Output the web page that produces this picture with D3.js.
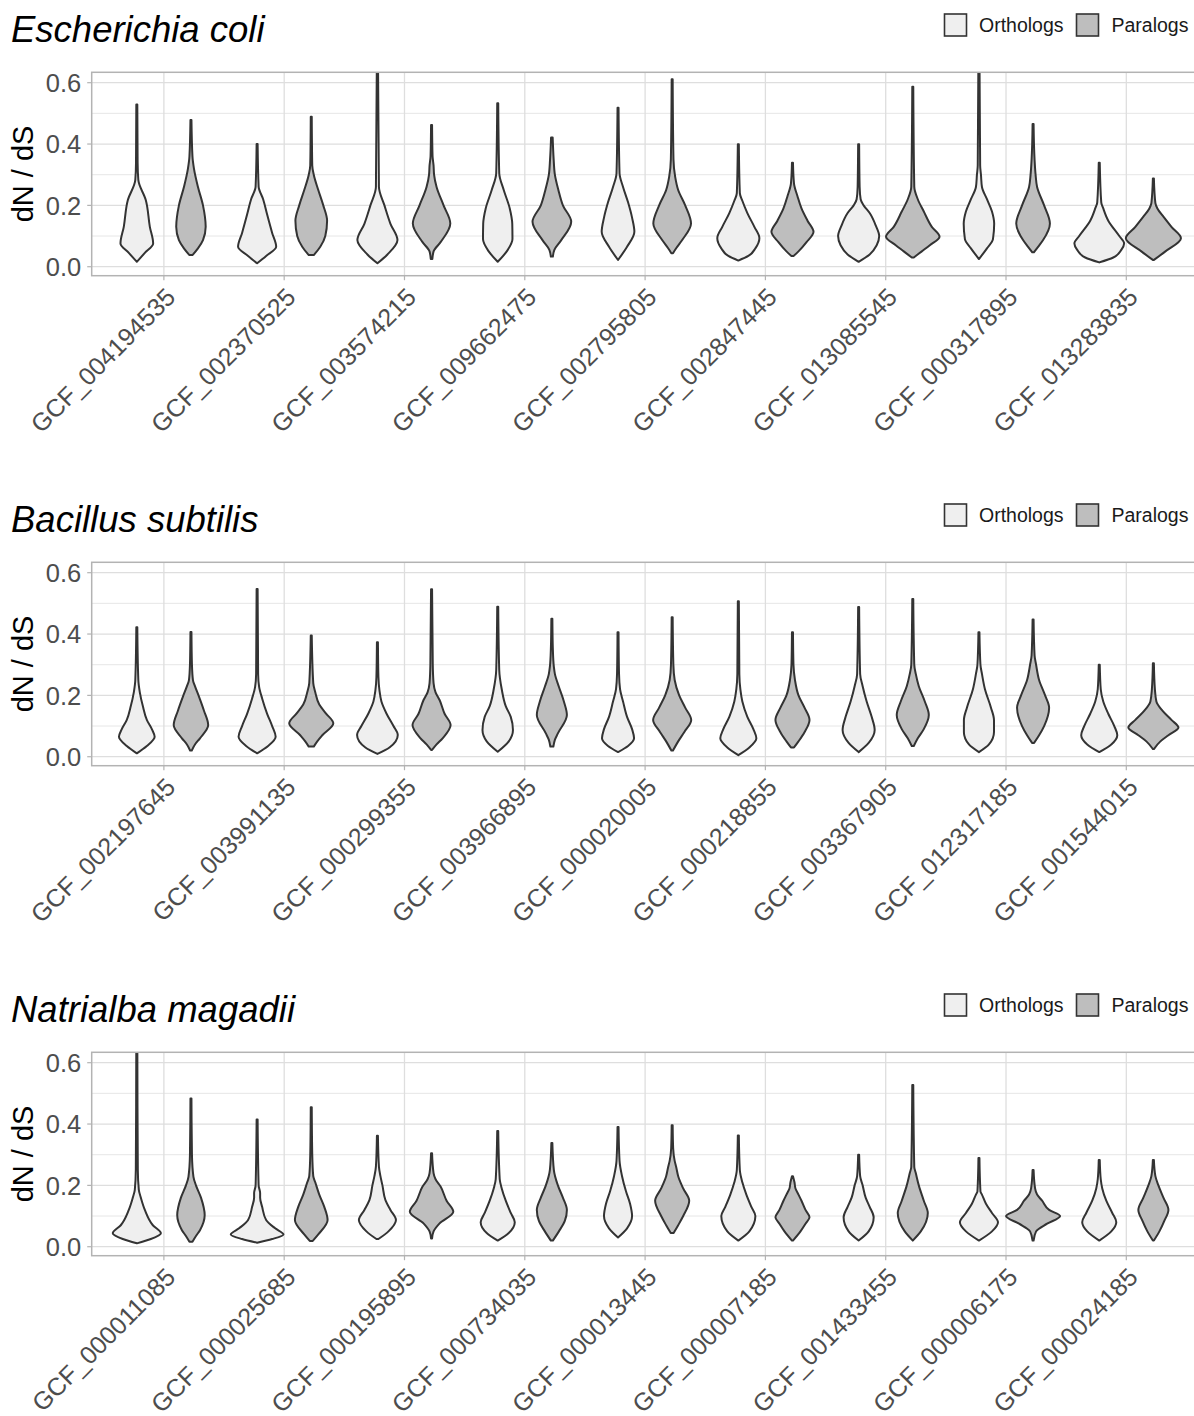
<!DOCTYPE html>
<html>
<head>
<meta charset="utf-8">
<script src="https://cdn.jsdelivr.net/npm/d3@7"></script>
<style>
  body { margin: 0; background: #fff; }
  svg { display: block; font-family: "Liberation Sans", Arial, sans-serif; }
</style>
</head>
<body>
<div id="chart"></div>
<script>
// dN/dS violins, three species, ortholog vs paralog per genome

const speciesNames = ["Escherichia coli", "Bacillus subtilis", "Natrialba magadii"];
const groups = ["Orthologs", "Paralogs"];
const yTicks = [0, 0.2, 0.4, 0.6];
const yMinor = [0.1, 0.3, 0.5];

const accEcoli = ["GCF_004194535", "GCF_002370525", "GCF_003574215", "GCF_009662475", "GCF_002795805",
  "GCF_002847445", "GCF_013085545", "GCF_000317895", "GCF_013283835"];
const accBsub = ["GCF_002197645", "GCF_003991135", "GCF_000299355", "GCF_003966895", "GCF_000020005",
  "GCF_000218855", "GCF_003367905", "GCF_012317185", "GCF_001544015"];
const accNmag = ["GCF_000011085", "GCF_000025685", "GCF_000195895", "GCF_000734035", "GCF_000013445",
  "GCF_000007185", "GCF_001433455", "GCF_000006175", "GCF_000024185"];

// violin outlines: [dN/dS, density] from bottom to top
const orthoEcoli = [
  [[0.016,0],[0.045,8],[0.076,16.3],[0.13,13],[0.217,9],[0.283,1.5],[0.34,0.8],[0.529,0.5]],
  [[0.011,0],[0.035,9],[0.065,19],[0.11,15],[0.17,10],[0.22,6],[0.261,1.5],[0.4,0.5]],
  [[0.011,0],[0.04,10],[0.087,20],[0.14,13],[0.2,7],[0.26,1.5],[0.7,0.5]],
  [[0.016,0],[0.05,9],[0.09,14.7],[0.14,14.5],[0.19,12],[0.25,6],[0.305,1.5],[0.533,0.5]],
  [[0.022,0],[0.065,9],[0.114,16.3],[0.16,14],[0.21,10],[0.26,5],[0.305,1.5],[0.518,0.5]],
  [[0.020,0],[0.035,10],[0.06,17],[0.093,21],[0.13,16],[0.175,9],[0.215,4],[0.24,1.5],[0.399,0.5]],
  [[0.016,0],[0.04,11],[0.07,18],[0.1,20.5],[0.135,17],[0.175,11],[0.2,5],[0.22,2],[0.26,1],[0.399,0.5]],
  [[0.025,0],[0.06,8],[0.09,14],[0.14,15.2],[0.18,13],[0.22,8],[0.26,3],[0.3,2],[0.33,1.2],[0.7,0.5]],
  [[0.014,0],[0.03,14],[0.055,22],[0.076,24.8],[0.1,20],[0.15,9],[0.19,4],[0.21,2],[0.339,0.5]]
];
const paraEcoli = [
  [[0.038,1.5],[0.06,7],[0.087,12],[0.13,14.7],[0.2,12],[0.26,7],[0.32,3],[0.36,1.5],[0.478,0.5]],
  [[0.038,2.5],[0.065,9],[0.1,14],[0.15,15.8],[0.2,12],[0.25,7],[0.3,2.5],[0.33,1],[0.489,0.5]],
  [[0.025,0.8],[0.05,2],[0.08,9],[0.141,18.7],[0.2,12],[0.26,5],[0.3,2.5],[0.33,2],[0.36,1],[0.462,0.5]],
  [[0.033,1],[0.055,2.5],[0.085,9],[0.147,19.3],[0.2,11],[0.25,6.5],[0.3,3],[0.35,1.8],[0.421,0.8]],
  [[0.044,0.8],[0.06,4],[0.087,10],[0.141,18.8],[0.2,13],[0.25,6],[0.293,3],[0.35,1.3],[0.611,0.5]],
  [[0.035,1],[0.05,6],[0.08,14],[0.114,21],[0.15,15],[0.19,9],[0.23,5],[0.272,1.5],[0.339,0.5]],
  [[0.030,1],[0.05,9],[0.07,17],[0.098,26.7],[0.13,19],[0.18,11],[0.22,5],[0.261,1.5],[0.587,0.5]],
  [[0.047,0.8],[0.065,5],[0.087,10],[0.141,16.8],[0.2,11],[0.26,4],[0.3,2.5],[0.348,1.5],[0.465,0.5]],
  [[0.022,0.5],[0.05,12],[0.093,27.5],[0.13,18],[0.163,10],[0.19,4],[0.207,2],[0.288,0.5]]
];

const orthoBsub = [
  [[0.011,0],[0.035,10],[0.065,17.8],[0.09,15],[0.12,10],[0.165,6],[0.21,3],[0.25,1.5],[0.422,0.5]],
  [[0.011,0],[0.035,11],[0.065,18.5],[0.1,15],[0.14,10],[0.19,5],[0.228,2],[0.27,1],[0.547,0.5]],
  [[0.009,0],[0.03,12],[0.071,20.3],[0.1,16],[0.141,9],[0.18,4],[0.217,2],[0.26,1],[0.373,0.5]],
  [[0.016,0],[0.05,11],[0.087,15.2],[0.13,13],[0.165,8],[0.22,4],[0.283,1.5],[0.489,0.5]],
  [[0.015,0],[0.035,10],[0.06,16],[0.09,14],[0.13,9],[0.18,5],[0.22,2],[0.27,1],[0.406,0.5]],
  [[0.005,0],[0.03,11],[0.06,18],[0.09,15],[0.13,9],[0.18,4],[0.22,2],[0.27,1],[0.507,0.5]],
  [[0.015,0],[0.045,10],[0.087,16],[0.13,13],[0.18,8],[0.23,4],[0.27,1.5],[0.488,0.5]],
  [[0.015,0],[0.04,10],[0.08,15],[0.12,15],[0.16,12],[0.22,6],[0.27,3],[0.3,1.5],[0.406,0.5]],
  [[0.015,0],[0.04,12],[0.07,18],[0.1,15],[0.14,9],[0.18,4],[0.22,1.5],[0.3,0.5]]
];
const paraBsub = [
  [[0.020,0.8],[0.04,4],[0.06,9],[0.103,17.2],[0.15,13],[0.196,8],[0.23,4],[0.25,2],[0.3,1],[0.407,0.5]],
  [[0.033,2.5],[0.05,6],[0.07,11],[0.109,22],[0.14,15],[0.17,8],[0.21,4],[0.24,2],[0.395,0.5]],
  [[0.022,0.5],[0.04,5],[0.06,11],[0.103,19],[0.14,13],[0.185,8],[0.21,4],[0.24,2],[0.3,1.2],[0.546,0.5]],
  [[0.033,1.5],[0.055,3],[0.076,6],[0.136,15],[0.18,12],[0.228,7],[0.27,3],[0.293,2],[0.35,1],[0.45,0.5]],
  [[0.02,0.8],[0.05,6],[0.08,12],[0.12,19],[0.16,13],[0.2,7],[0.25,2.5],[0.3,1.2],[0.455,0.5]],
  [[0.03,1.5],[0.05,6],[0.08,12],[0.12,17],[0.16,12],[0.2,6],[0.25,2.5],[0.3,1],[0.406,0.5]],
  [[0.035,1],[0.06,5],[0.09,11],[0.136,16],[0.18,12],[0.23,6],[0.27,3],[0.3,1.5],[0.514,0.5]],
  [[0.045,1],[0.07,6],[0.1,11],[0.16,16],[0.2,12],[0.25,6],[0.3,3],[0.33,1.5],[0.447,0.5]],
  [[0.025,0.5],[0.05,7],[0.07,15],[0.095,25],[0.12,18],[0.15,9],[0.18,3],[0.22,1.5],[0.305,0.5]]
];

const orthoNmag = [
  [[0.011,0],[0.025,14],[0.044,24],[0.07,16],[0.12,8],[0.16,4],[0.185,2],[0.25,1],[0.7,0.5]],
  [[0.013,0],[0.025,15],[0.04,26.3],[0.06,18],[0.087,9],[0.13,5],[0.16,3],[0.175,3],[0.2,1.5],[0.415,0.5]],
  [[0.025,1],[0.05,11],[0.087,18.5],[0.12,13],[0.152,8],[0.2,5],[0.23,3],[0.261,1.5],[0.362,0.5]],
  [[0.02,0],[0.045,11],[0.08,17],[0.11,13],[0.15,8],[0.19,4],[0.22,2],[0.377,0.5]],
  [[0.03,0],[0.06,9],[0.1,14],[0.14,12],[0.18,8],[0.23,4],[0.28,1.5],[0.39,0.5]],
  [[0.02,0],[0.05,11],[0.1,17],[0.13,13],[0.17,8],[0.21,4],[0.25,1.5],[0.363,0.5]],
  [[0.02,0],[0.05,10],[0.096,15],[0.13,11],[0.16,7],[0.2,4],[0.23,1.5],[0.3,0.5]],
  [[0.02,0],[0.05,13],[0.08,19],[0.11,13],[0.14,7],[0.17,3],[0.18,1.5],[0.289,0.5]],
  [[0.02,0],[0.05,12],[0.08,17],[0.11,13],[0.15,7],[0.19,3],[0.22,1.5],[0.283,0.5]]
];
const paraNmag = [
  [[0.016,1.5],[0.035,5],[0.054,9],[0.103,13.7],[0.16,10],[0.2,5],[0.228,2.5],[0.3,1],[0.483,0.5]],
  [[0.019,1.5],[0.04,7],[0.087,16.3],[0.13,13],[0.17,8],[0.21,4],[0.23,2],[0.3,1],[0.455,0.5]],
  [[0.027,0.5],[0.05,2],[0.076,8],[0.114,21.7],[0.15,15],[0.196,9],[0.22,4],[0.24,2],[0.305,0.5]],
  [[0.02,1],[0.05,7],[0.085,13],[0.12,15],[0.16,11],[0.2,6],[0.25,2],[0.338,0.5]],
  [[0.045,1.5],[0.07,6],[0.1,11],[0.15,17],[0.19,11],[0.23,6],[0.26,4],[0.28,2.5],[0.32,1],[0.396,0.5]],
  [[0.02,0.5],[0.05,8],[0.075,13],[0.096,17],[0.12,13],[0.15,9],[0.17,6],[0.19,3],[0.21,2],[0.23,0.5]],
  [[0.02,0],[0.05,8],[0.11,15],[0.15,11],[0.2,6],[0.24,3],[0.26,1.5],[0.527,0.5]],
  [[0.02,0.5],[0.05,3],[0.075,14],[0.1,27],[0.12,16],[0.15,9],[0.17,4],[0.19,2],[0.25,0.5]],
  [[0.02,0.5],[0.05,6],[0.085,11],[0.12,15],[0.16,10],[0.2,5],[0.23,2],[0.283,0.5]]
];

const panels = [
  {title: speciesNames[0], acc: accEcoli, ortho: orthoEcoli, para: paraEcoli},
  {title: speciesNames[1], acc: accBsub, ortho: orthoBsub, para: paraBsub},
  {title: speciesNames[2], acc: accNmag, ortho: orthoNmag, para: paraNmag}
];

const W = 1194, H = 1416;
const fills = {Orthologs: "#efefef", Paralogs: "#bebebe"};

const svg = d3.select("#chart").append("svg")
  .attr("width", W).attr("height", H);
svg.append("rect").attr("width", W).attr("height", H).attr("fill", "#fff");

const stride = 490;
const plotLeft = 91.7, plotRight = 1198.5, plotTop = 72.3, plotBottom = 275.7;

const y = d3.scaleLinear().domain([-0.0293, 0.6339]).range([plotBottom, plotTop]);

panels.forEach(function(p, k) {
  const g = svg.append("g").attr("transform", "translate(0," + (k * stride) + ")");

  const x = d3.scaleBand().domain(p.acc).range([plotLeft, plotRight])
    .paddingInner(0).paddingOuter(0.1);
  const step = x.step();
  const xg = d3.scaleBand().domain(groups).range([0.05 * step, 0.95 * step]);
  const dens = d3.scaleLinear().domain([0, 27]).range([0, xg.bandwidth() / 2]);

  // title
  g.append("text")
    .attr("x", 11).attr("y", 42)
    .attr("font-size", 36.5).attr("font-style", "italic")
    .attr("fill", "#000")
    .text(p.title);

  // legend
  const leg = g.append("g");
  const legX = [944.5, 1076.5], legTextX = [979, 1111.5];
  groups.forEach(function(gr, i) {
    leg.append("rect")
      .attr("x", legX[i]).attr("y", 14)
      .attr("width", 22).attr("height", 22)
      .attr("fill", fills[gr]).attr("stroke", "#333").attr("stroke-width", 1.6);
    leg.append("text")
      .attr("x", legTextX[i]).attr("y", 32)
      .attr("font-size", 19.5).attr("fill", "#1a1a1a")
      .text(gr);
  });

  // grid
  g.append("g").selectAll("line.minor").data(yMinor).join("line")
    .attr("x1", plotLeft).attr("x2", plotRight)
    .attr("y1", d => y(d)).attr("y2", d => y(d))
    .attr("stroke", "#e3e3e3").attr("stroke-width", 0.9);
  g.append("g").selectAll("line.major").data(yTicks).join("line")
    .attr("x1", plotLeft).attr("x2", plotRight)
    .attr("y1", d => y(d)).attr("y2", d => y(d))
    .attr("stroke", "#dedede").attr("stroke-width", 1.3);
  g.append("g").selectAll("line.vmajor").data(p.acc).join("line")
    .attr("x1", d => x(d) + step / 2).attr("x2", d => x(d) + step / 2)
    .attr("y1", plotTop).attr("y2", plotBottom)
    .attr("stroke", "#dedede").attr("stroke-width", 1.3);

  // violins
  const clipId = "clip" + k;
  g.append("clipPath").attr("id", clipId).append("rect")
    .attr("x", plotLeft).attr("y", plotTop)
    .attr("width", plotRight - plotLeft).attr("height", plotBottom - plotTop);

  const vg = g.append("g").attr("clip-path", "url(#" + clipId + ")");
  const violins = [];
  p.acc.forEach(function(a, i) {
    violins.push({acc: a, group: "Orthologs", prof: p.ortho[i]});
    violins.push({acc: a, group: "Paralogs", prof: p.para[i]});
  });

  vg.selectAll("path.violin").data(violins).join("path")
    .attr("class", "violin")
    .attr("d", function(v) {
      const cx = x(v.acc) + xg(v.group) + xg.bandwidth() / 2;
      return d3.area()
        .curve(d3.curveMonotoneY)
        .y(d => y(d[0]))
        .x0(d => cx - dens(d[1]))
        .x1(d => cx + dens(d[1]))(v.prof);
    })
    .attr("fill", v => fills[v.group])
    .attr("stroke", "#333")
    .attr("stroke-width", 2)
    .attr("stroke-linejoin", "round");

  // panel border
  g.append("rect")
    .attr("x", plotLeft).attr("y", plotTop)
    .attr("width", plotRight - plotLeft).attr("height", plotBottom - plotTop)
    .attr("fill", "none").attr("stroke", "#b3b3b3").attr("stroke-width", 1.5);

  // y axis
  const yAxis = g.append("g");
  yAxis.selectAll("line").data(yTicks).join("line")
    .attr("x1", plotLeft - 4.5).attr("x2", plotLeft)
    .attr("y1", d => y(d)).attr("y2", d => y(d))
    .attr("stroke", "#b3b3b3").attr("stroke-width", 1.2);
  yAxis.selectAll("text").data(yTicks).join("text")
    .attr("x", plotLeft - 10.5).attr("y", d => y(d))
    .attr("dy", "0.36em")
    .attr("text-anchor", "end")
    .attr("font-size", 25.5).attr("fill", "#4d4d4d")
    .text(d => d3.format(".1f")(d));

  g.append("text")
    .attr("transform", "translate(33," + ((plotTop + plotBottom) / 2) + ") rotate(-90)")
    .attr("text-anchor", "middle")
    .attr("font-size", 29).attr("fill", "#000")
    .text("dN / dS");

  // x axis
  const xAxis = g.append("g");
  xAxis.selectAll("line").data(p.acc).join("line")
    .attr("x1", d => x(d) + step / 2).attr("x2", d => x(d) + step / 2)
    .attr("y1", plotBottom).attr("y2", plotBottom + 4.5)
    .attr("stroke", "#b3b3b3").attr("stroke-width", 1.2);
  xAxis.selectAll("text").data(p.acc).join("text")
    .attr("transform", d => "translate(" + (x(d) + step / 2 + 13) + "," + (plotBottom + 23) + ") rotate(-45)")
    .attr("text-anchor", "end")
    .attr("font-size", 25).attr("fill", "#4d4d4d")
    .text(d => d);
});
</script>
</body>
</html>
